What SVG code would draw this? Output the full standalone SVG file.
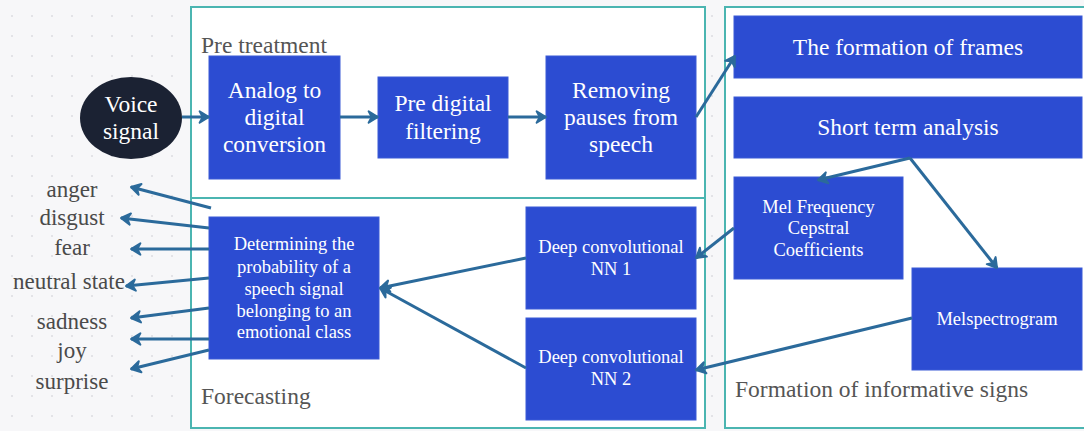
<svg xmlns="http://www.w3.org/2000/svg" width="1084" height="431" viewBox="0 0 1084 431" font-family="'Liberation Serif', 'Times New Roman', serif">
  <defs>
    <pattern id="dots" x="0" y="0" width="20" height="20" patternUnits="userSpaceOnUse">
      <circle cx="12" cy="16" r="1" fill="#dcdde2"/>
    </pattern>
    <!-- chevron arrowhead with a filled concave back -->
    <marker id="arrow" viewBox="0 0 12 12" refX="10" refY="6" markerWidth="5" markerHeight="5" orient="auto" markerUnits="strokeWidth">
      <path d="M2.5,1.5 L10,6 L2.5,10.5 L5,6 z" fill="#2b6a9b" stroke="#2b6a9b" stroke-width="1.6" stroke-linejoin="round" stroke-linecap="round"/>
    </marker>
    <style>
      text { font-family: "Liberation Serif", "Times New Roman", serif; }
      .frame { fill: #ffffff; stroke: #4bb5b1; stroke-width: 2; }
      .box { fill: #2c4cd2; stroke: #3a5ad6; stroke-width: 1; }
      .big { font-size: 23.5px; fill: #ffffff; text-anchor: middle; }
      .small { font-size: 18.5px; fill: #ffffff; text-anchor: middle; }
      .title { font-size: 23.5px; fill: #555555; }
      .emo { font-size: 23px; fill: #4a4a4a; text-anchor: middle; }
      .conn { fill: none; stroke: #2b6a9b; stroke-width: 3; marker-end: url(#arrow); }
    </style>
  </defs>

  <!-- canvas background with dot grid -->
  <rect x="0" y="0" width="1084" height="431" fill="#f7f7f9"/>
  <rect x="0" y="0" width="1084" height="431" fill="url(#dots)"/>

  <!-- frames -->
  <g id="frame-pretreatment">
    <rect class="frame" x="191" y="7" width="514" height="191"/>
    <text class="title" x="201" y="53">Pre treatment</text>
  </g>
  <g id="frame-forecasting">
    <rect class="frame" x="191" y="198" width="514" height="230"/>
    <text class="title" x="201" y="404">Forecasting</text>
  </g>
  <g id="frame-formation">
    <rect class="frame" x="725" y="7" width="362" height="421"/>
    <text class="title" x="735" y="397">Formation of informative signs</text>
  </g>

  <!-- nodes -->
  <g id="voice-signal">
    <ellipse cx="131" cy="118" rx="51" ry="41" fill="#1b2233"/>
    <text class="big" x="131" y="112">Voice</text>
    <text class="big" x="131" y="139">signal</text>
  </g>
  <g id="analog-digital">
    <rect class="box" x="209" y="56" width="131" height="123"/>
    <text class="big" x="274.5" y="98">Analog to</text>
    <text class="big" x="274.5" y="125">digital</text>
    <text class="big" x="274.5" y="152">conversion</text>
  </g>
  <g id="pre-filtering">
    <rect class="box" x="378" y="77" width="130" height="81"/>
    <text class="big" x="443" y="111">Pre digital</text>
    <text class="big" x="443" y="139">filtering</text>
  </g>
  <g id="removing-pauses">
    <rect class="box" x="546" y="56" width="150" height="123"/>
    <text class="big" x="621" y="98">Removing</text>
    <text class="big" x="621" y="125">pauses from</text>
    <text class="big" x="621" y="152">speech</text>
  </g>
  <g id="frames">
    <rect class="box" x="734" y="16" width="348" height="62"/>
    <text class="big" x="908" y="55">The formation of frames</text>
  </g>
  <g id="short-term">
    <rect class="box" x="734" y="97" width="348" height="61"/>
    <text class="big" x="908" y="135">Short term analysis</text>
  </g>
  <g id="mfcc">
    <rect class="box" x="734" y="177" width="169" height="102"/>
    <text class="small" x="818.5" y="213">Mel Frequency</text>
    <text class="small" x="818.5" y="234">Cepstral</text>
    <text class="small" x="818.5" y="256">Coefficients</text>
  </g>
  <g id="melspectrogram">
    <rect class="box" x="912" y="268" width="170" height="102"/>
    <text class="small" x="997" y="325">Melspectrogram</text>
  </g>
  <g id="dcnn-1">
    <rect class="box" x="526" y="207" width="170" height="102"/>
    <text class="small" x="611" y="253">Deep convolutional</text>
    <text class="small" x="611" y="275">NN 1</text>
  </g>
  <g id="dcnn-2">
    <rect class="box" x="526" y="318" width="170" height="102"/>
    <text class="small" x="611" y="363">Deep convolutional</text>
    <text class="small" x="611" y="385">NN 2</text>
  </g>
  <g id="probability">
    <rect class="box" x="209" y="217" width="170" height="142"/>
    <text class="small" x="294" y="250">Determining the</text>
    <text class="small" x="294" y="273">probability of a</text>
    <text class="small" x="294" y="295">speech signal</text>
    <text class="small" x="294" y="317">belonging to an</text>
    <text class="small" x="294" y="338">emotional class</text>
  </g>

  <!-- emotion classes -->
  <g id="emotions">
    <text class="emo" x="72" y="197">anger</text>
    <text class="emo" x="72" y="225">disgust</text>
    <text class="emo" x="72" y="255">fear</text>
    <text class="emo" x="69" y="289">neutral state</text>
    <text class="emo" x="72" y="329">sadness</text>
    <text class="emo" x="72" y="358">joy</text>
    <text class="emo" x="72" y="389">surprise</text>
  </g>

  <!-- connectors -->
  <g id="connectors">
    <line class="conn" x1="182" y1="117" x2="209" y2="117"/>
    <line class="conn" x1="340" y1="117" x2="378" y2="117"/>
    <line class="conn" x1="508" y1="117" x2="546" y2="117"/>
    <line class="conn" x1="696" y1="117" x2="735" y2="56"/>
    <line class="conn" x1="910" y1="158" x2="818" y2="180"/>
    <line class="conn" x1="910" y1="158" x2="997" y2="268"/>
    <line class="conn" x1="734" y1="228" x2="696" y2="258"/>
    <line class="conn" x1="912" y1="318" x2="696" y2="370"/>
    <line class="conn" x1="526" y1="258" x2="380" y2="288"/>
    <line class="conn" x1="526" y1="368" x2="380" y2="288"/>
    <line class="conn" x1="211" y1="208" x2="131" y2="187"/>
    <line class="conn" x1="209" y1="228" x2="121" y2="218"/>
    <line class="conn" x1="209" y1="249" x2="131" y2="249"/>
    <line class="conn" x1="209" y1="278" x2="126" y2="286"/>
    <line class="conn" x1="209" y1="308" x2="131" y2="318"/>
    <line class="conn" x1="209" y1="339" x2="131" y2="339"/>
    <line class="conn" x1="209" y1="350" x2="131" y2="369"/>
  </g>
</svg>
